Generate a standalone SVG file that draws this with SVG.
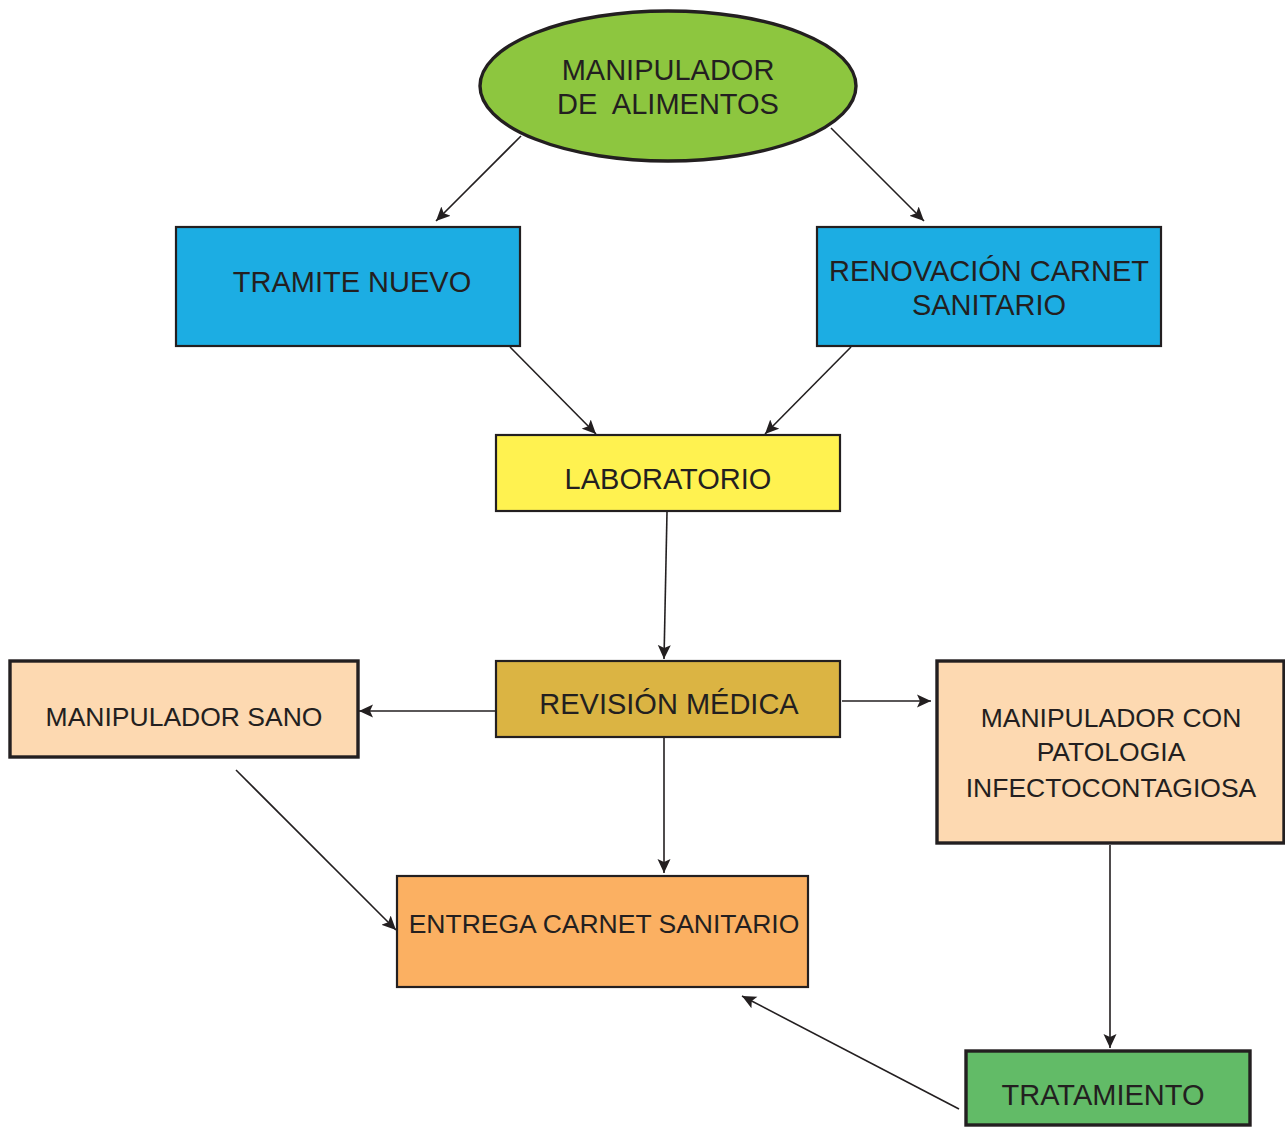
<svg xmlns="http://www.w3.org/2000/svg" width="1285" height="1127" viewBox="0 0 1285 1127">
<style>
.t{font-family:"Liberation Sans",Arial,sans-serif;fill:#231f20;text-anchor:middle}
.b{font-size:29px}
.s{font-size:26.5px}
.n{stroke:#231f20;stroke-width:2.2}
.k{stroke:#231f20;stroke-width:3.4}
.c{stroke:#231f20;stroke-width:1.6;fill:none;marker-end:url(#ah)}
</style>
<defs>
<marker id="ah" viewBox="0 0 14 14" refX="14" refY="7" markerWidth="14" markerHeight="14" markerUnits="userSpaceOnUse" orient="auto">
<path d="M0,0.5 L14,7 L0,13.5 L3,7 z" fill="#231f20"/>
</marker>
</defs>
<rect width="1285" height="1127" fill="#fff"/>
<g id="connectors">
<line class="c" x1="521" y1="136" x2="436" y2="221"/>
<line class="c" x1="831" y1="128" x2="924" y2="221"/>
<line class="c" x1="510" y1="347" x2="596" y2="434"/>
<line class="c" x1="851" y1="347" x2="765" y2="434"/>
<line class="c" x1="667" y1="512" x2="664" y2="659"/>
<line class="c" x1="496" y1="711" x2="359" y2="711"/>
<line class="c" x1="842" y1="701" x2="931" y2="701"/>
<line class="c" x1="664" y1="737" x2="664" y2="873"/>
<line class="c" x1="236" y1="770" x2="396" y2="930"/>
<line class="c" x1="1110" y1="845" x2="1110" y2="1048"/>
<line class="c" x1="959" y1="1109" x2="742" y2="996"/>
</g>
<g id="manipulador-alimentos">
<ellipse cx="668" cy="86" rx="188" ry="75" fill="#8dc63f" class="k"/>
<text class="t b" x="668" y="80">MANIPULADOR</text>
<text class="t b" x="668" y="114" xml:space="preserve">DE  ALIMENTOS</text>
</g>
<g id="tramite-nuevo">
<rect x="176" y="227" width="344" height="119" fill="#1cade3" class="n"/>
<text class="t b" x="352" y="292">TRAMITE NUEVO</text>
</g>
<g id="renovacion">
<rect x="817" y="227" width="344" height="119" fill="#1cade3" class="n"/>
<text class="t b" x="989" y="281">RENOVACIÓN CARNET</text>
<text class="t b" x="989" y="315">SANITARIO</text>
</g>
<g id="laboratorio">
<rect x="496" y="435" width="344" height="76" fill="#fff250" class="n"/>
<text class="t b" x="668" y="489">LABORATORIO</text>
</g>
<g id="revision-medica">
<rect x="496" y="661" width="344" height="76" fill="#dbb443" class="n"/>
<text class="t b" x="669" y="714">REVISIÓN MÉDICA</text>
</g>
<g id="manipulador-sano">
<rect x="10" y="661" width="348" height="96" fill="#fdd9b1" class="k"/>
<text class="t s" x="184" y="726">MANIPULADOR SANO</text>
</g>
<g id="manipulador-con-patologia">
<rect x="937" y="661" width="347" height="182" fill="#fdd9b1" class="k"/>
<text class="t s" x="1111" y="727">MANIPULADOR CON</text>
<text class="t s" x="1111" y="761">PATOLOGIA</text>
<text class="t s" x="1111" y="797">INFECTOCONTAGIOSA</text>
</g>
<g id="entrega-carnet">
<rect x="397" y="876" width="411" height="111" fill="#fbb062" class="n"/>
<text class="t s" x="604" y="933">ENTREGA CARNET SANITARIO</text>
</g>
<g id="tratamiento">
<rect x="966" y="1051" width="284" height="74" fill="#62bb67" class="k"/>
<text class="t b" x="1103" y="1105">TRATAMIENTO</text>
</g>
</svg>
